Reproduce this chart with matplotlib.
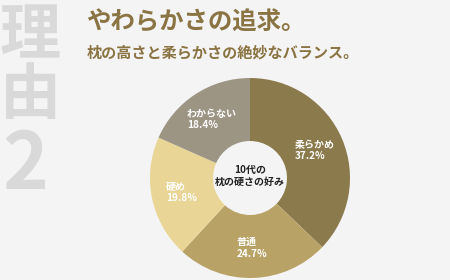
import numpy as np
import matplotlib
matplotlib.use("Agg")
import matplotlib.pyplot as plt

plt.rcParams['font.family'] = ['Noto Sans CJK JP', 'DejaVu Sans']

categories = ["柔らかめ", "普通", "硬め", "わからない"]
values = [37.2, 24.7, 19.8, 18.4]
colors = ["#8b7a4c", "#b9a265", "#e9d596", "#9d9584"]
title = "やわらかさの追求。"
subtitle = "枕の高さと柔らかさの絶妙なバランス。"
center_text = "10代の\n枕の硬さの好み"
side_text = ["理", "由", "2"]

bg = "#f4f4f4"
fig = plt.figure(figsize=(4.5, 2.8), dpi=100, facecolor=bg)

# side big text
side_y = [37, 96, 166]
side_size = [44, 44, 56]
side_x = [0, 0, 2]
for s, yy, fs, xx in zip(side_text, side_y, side_size, side_x):
    fig.text(xx / 450, 1 - yy / 280, s, fontsize=fs, fontweight='bold',
             color="#d9d9d9", ha='left', va='center')

fig.text(86 / 450, 1 - 22 / 280, title, fontsize=17.6, fontweight='bold',
         color="#8a7443", ha='left', va='center')
fig.text(87 / 450, 1 - 53 / 280, subtitle, fontsize=10.9, fontweight='bold',
         color="#8a7443", ha='left', va='center')

ax = fig.add_axes([150 / 450, 2 / 280, 200 / 450, 200 / 280])
ax.set_facecolor(bg)
wedges, _ = ax.pie(values, colors=colors, startangle=90, counterclock=False,
                   radius=1.0, wedgeprops=dict(width=0.63, edgecolor='none'))
ax.set_xlim(-1, 1)
ax.set_ylim(-1, 1)
ax.set_aspect('equal')
ax.axis('off')

for w, cat, v in zip(wedges, categories, values):
    ang = np.deg2rad((w.theta1 + w.theta2) / 2)
    r = 0.7
    ax.text(r * np.cos(ang), r * np.sin(ang), f"{cat}\n{v}%", color='white',
            fontsize=7.2, fontweight='bold', ha='center', va='center',
            multialignment='left', linespacing=1.15)

ax.text(0, 0.02, center_text, color='#222222', fontsize=7.2, fontweight='bold',
        ha='center', va='center', linespacing=1.35)

fig.savefig("out.png", dpi=100, facecolor=bg)
